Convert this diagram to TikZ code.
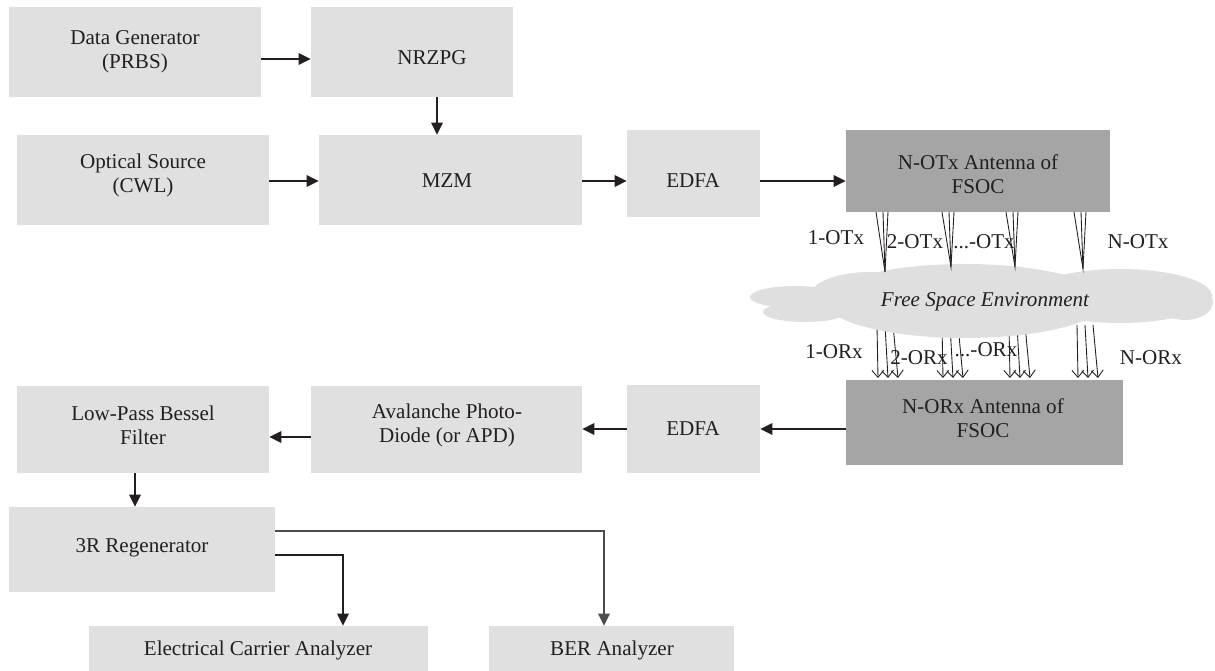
\documentclass[tikz,border=0pt]{standalone}
\usepackage{fontspec}
\setmainfont{Liberation Serif}
\usetikzlibrary{arrows.meta,fit}
\definecolor{boxlight}{HTML}{E0E0E0}
\definecolor{boxdark}{HTML}{A5A5A5}
\definecolor{ink}{HTML}{231F20}
\definecolor{cloudgray}{HTML}{DFDFDF}
\begin{document}
\begin{tikzpicture}[x=0.02cm,y=-0.02cm,
  font=\fontsize{12}{13.6}\selectfont,
  block/.style={fill=boxlight, draw=none, inner sep=0pt},
  antenna/.style={fill=boxdark, draw=none, inner sep=0pt},
  caption/.style={text=ink, align=center, inner sep=0pt},
  flow/.style={draw=ink, line width=0.85pt, -{Triangle[length=2.4mm,width=2.3mm]}},
  beam/.style={draw=ink, line width=0.5pt},
  rxbeam/.style={draw=ink, line width=0.5pt, -{Straight Barb[length=1.4mm,width=2.4mm]}},
  tag/.style={text=ink, inner sep=0pt}]
\useasboundingbox (0,0) rectangle (1215,671);

% ---- transmitter chain ----
\node[block, fit={(9,7) (261,97)}] (gen) {};
\node[caption] (gen-t) at (135,52) {Data Generator\\(PRBS)};
\node[block, fit={(311,7) (513,97)}] (nrz) {};
\node[caption] (nrz-t) at (432,58) {NRZPG};
\node[block, fit={(17,135) (269,225)}] (opt) {};
\node[caption] (opt-t) at (143,175) {Optical Source\\(CWL)};
\node[block, fit={(319,135) (582,225)}] (mzm) {};
\node[caption] (mzm-t) at (447,181) {MZM};
\node[block, fit={(627,130) (760,217)}] (edfa1) {};
\node[caption] (edfa1-t) at (693,181) {EDFA};
\node[antenna, fit={(846,130) (1110,212)}] (notx) {};
\node[caption] (notx-t) at (978,174) {N-OTx Antenna of\\FSOC};

% ---- receiver chain ----
\node[antenna, fit={(846,380) (1123,465)}] (norx) {};
\node[caption] (norx-t) at (983,418) {N-ORx Antenna of\\FSOC};
\node[block, fit={(627,385) (760,473)}] (edfa2) {};
\node[caption] (edfa2-t) at (693,429) {EDFA};
\node[block, fit={(311,386) (582,473)}] (apd) {};
\node[caption] (apd-t) at (447,425) {Avalanche Photo-\\Diode (or APD)};
\node[block, fit={(17,386) (269,473)}] (lpf) {};
\node[caption] (lpf-t) at (143,425) {Low-Pass Bessel\\Filter};
\node[block, fit={(9,507) (275,592)}] (reg) {};
\node[caption] (reg-t) at (142,548) {3R Regenerator};
\node[block, fit={(89,626) (428,671)}] (eca) {};
\node[caption] (eca-t) at (258,650) {Electrical Carrier Analyzer};
\node[block, fit={(489,626) (734,671)}] (ber) {};
\node[caption] (ber-t) at (612,650) {BER Analyzer};

% ---- signal flow ----
\draw[flow] (gen.east |- 0,59) -- (nrz.west |- 0,59);
\draw[flow] (437,0 |- nrz.south) -- (437,0 |- mzm.north);
\draw[flow] (opt.east |- 0,181) -- (mzm.west |- 0,181);
\draw[flow] (mzm.east |- 0,181) -- (edfa1.west |- 0,181);
\draw[flow] (edfa1.east |- 0,181) -- (notx.west |- 0,181);
\draw[flow] (norx.west |- 0,429) -- (edfa2.east |- 0,429);
\draw[flow] (edfa2.west |- 0,429) -- (apd.east |- 0,429);
\draw[flow] (apd.west |- 0,437) -- (lpf.east |- 0,437);
\draw[flow] (135,0 |- lpf.south) -- (135,0 |- reg.north);
\draw[flow, draw=ink!80] (reg.east |- 0,531) -| (604,0 |- ber.north);
\draw[flow] (reg.east |- 0,555) -| (343,0 |- eca.north);

% ---- received beams (drawn under the cloud) ----
\foreach \c in {885,950,1017,1085} {
  \draw[rxbeam] (\c-8,325) -- (\c-7,378);
  \draw[rxbeam] (\c,325) -- (\c+3,378);
  \draw[rxbeam] (\c+8,325) -- (\c+13,378);
}

% ---- free space cloud ----
\fill[cloudgray] (795,297) ellipse [x radius=45, y radius=11];
\fill[cloudgray] (805,312) ellipse [x radius=42, y radius=10];
\fill[cloudgray] (870,296) ellipse [x radius=60, y radius=24];
\fill[cloudgray] (965,301) ellipse [x radius=140, y radius=37];
\fill[cloudgray] (1120,296) ellipse [x radius=92, y radius=27];
\fill[cloudgray] (1185,302) ellipse [x radius=28, y radius=18];
\node[tag, font=\fontsize{12}{13.6}\selectfont\itshape] (fse) at (985,302) {Free Space Environment};

% ---- transmitted beams ----
\foreach \c/\b in {885/272,951/267,1015/267,1083/269} {
  \draw[beam] (\c-9,212) -- (\c,\b) -- (\c+3,212);
  \draw[beam] (\c-2,212) -- (\c,\b);
}

% ---- beam labels ----
\node[tag] (otx1) at (836,238) {1-OTx};
\node[tag] (otx2) at (915,242) {2-OTx};
\node[tag] (otxk) at (984,242) {...-OTx};
\node[tag] (otxn) at (1138,242) {N-OTx};
\node[tag] (orx1) at (834,352) {1-ORx};
\node[tag] (orx2) at (919,358) {2-ORx};
\node[tag] (orxk) at (986,350) {...-ORx};
\node[tag] (orxn) at (1151,358) {N-ORx};
\end{tikzpicture}
\end{document}
